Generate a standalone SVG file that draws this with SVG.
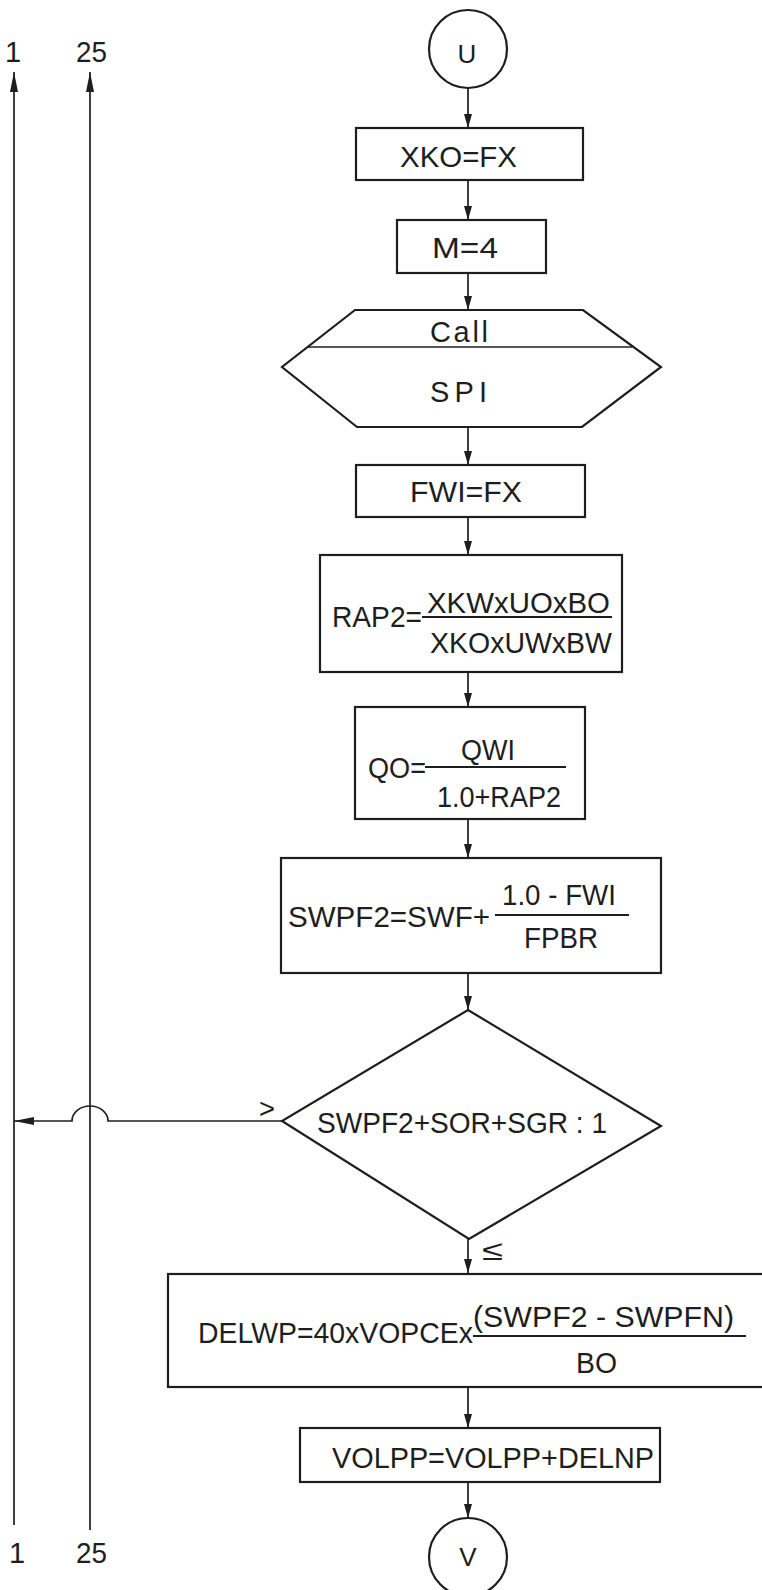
<svg xmlns="http://www.w3.org/2000/svg" width="762" height="1590" viewBox="0 0 762 1590">
<style>
.bx{fill:none;stroke:#1e1e1e;stroke-width:2.2}
.ln{fill:none;stroke:#1e1e1e;stroke-width:1.7}
.fr{stroke:#1e1e1e;stroke-width:2.2}
text{font-family:"Liberation Sans",Arial,sans-serif;font-size:29px;fill:#1e1e1e}
.m{text-anchor:middle}
.sm{font-size:28px}
</style>
<defs>
<marker id="ah" viewBox="0 0 14 8" refX="14" refY="4" markerWidth="14" markerHeight="8" orient="auto" markerUnits="userSpaceOnUse"><path d="M0,0 L14,4 L0,8 z" fill="#1e1e1e"/></marker>
<marker id="ahL" viewBox="0 0 20 8" refX="20" refY="4" markerWidth="20" markerHeight="8" orient="auto" markerUnits="userSpaceOnUse"><path d="M0,0 L20,4 L0,8 z" fill="#1e1e1e"/></marker>
</defs>
<rect width="762" height="1590" fill="#fff"/>

<g id="connectors">
<path class="ln" d="M14,1525 V72" marker-end="url(#ahL)"/>
<path class="ln" d="M90,1530 V72" marker-end="url(#ahL)"/>
<path class="ln" d="M468,88 V128" marker-end="url(#ah)"/>
<path class="ln" d="M468,180 V220" marker-end="url(#ah)"/>
<path class="ln" d="M468,273 V310" marker-end="url(#ah)"/>
<path class="ln" d="M468,427 V465" marker-end="url(#ah)"/>
<path class="ln" d="M468,517 V555" marker-end="url(#ah)"/>
<path class="ln" d="M468,672 V707" marker-end="url(#ah)"/>
<path class="ln" d="M468,819 V858" marker-end="url(#ah)"/>
<path class="ln" d="M468,973 V1010" marker-end="url(#ah)"/>
<path class="ln" d="M468,1238 V1273" marker-end="url(#ah)"/>
<path class="ln" d="M468,1387 V1428" marker-end="url(#ah)"/>
<path class="ln" d="M468,1482 V1518" marker-end="url(#ah)"/>
<path class="ln" d="M282,1121 H108 A18,15 0 0 0 72,1121 H14" stroke-width="2.4" marker-end="url(#ahL)"/>
<text x="259" y="1118" class="sm" textLength="16" lengthAdjust="spacingAndGlyphs">&gt;</text>
<text x="482" y="1260" class="sm" textLength="21" lengthAdjust="spacingAndGlyphs">≤</text>
</g>

<g id="labels-left">
<text x="13" y="62" class="m">1</text>
<text x="76" y="62" textLength="31" lengthAdjust="spacingAndGlyphs">25</text>
<text x="17" y="1563" class="m">1</text>
<text x="76" y="1563" textLength="31" lengthAdjust="spacingAndGlyphs">25</text>
</g>

<g id="U">
<circle class="bx" cx="468" cy="49" r="39"/>
<text x="467" y="63" class="m" style="font-size:26px">U</text>
</g>

<g id="XKO">
<rect class="bx" x="356" y="128" width="227" height="52"/>
<text x="400" y="167" textLength="117" lengthAdjust="spacingAndGlyphs">XKO=FX</text>
</g>

<g id="M4">
<rect class="bx" x="397" y="220" width="149" height="53"/>
<text x="432" y="258" textLength="66" lengthAdjust="spacingAndGlyphs">M=4</text>
</g>

<g id="CallSPI">
<polygon class="bx" points="355,310 583,310 661,367 582,427 357,427 282,367"/>
<line class="ln" x1="308" y1="347" x2="632" y2="347" stroke-width="2.2"/>
<text x="430" y="342" textLength="58">Call</text>
<text x="430" y="402" textLength="57">SPI</text>
</g>

<g id="FWI">
<rect class="bx" x="356" y="465" width="229" height="52"/>
<text x="410" y="502" textLength="112" lengthAdjust="spacingAndGlyphs">FWI=FX</text>
</g>

<g id="RAP2">
<rect class="bx" x="320" y="555" width="302" height="117"/>
<text x="332" y="627" textLength="90" lengthAdjust="spacingAndGlyphs">RAP2=</text>
<text x="427" y="613" textLength="183" lengthAdjust="spacingAndGlyphs">XKWxUOxBO</text>
<line class="fr" x1="422" y1="617" x2="612" y2="617"/>
<text x="430" y="653" textLength="182" lengthAdjust="spacingAndGlyphs">XKOxUWxBW</text>
</g>

<g id="QO">
<rect class="bx" x="355" y="707" width="230" height="112"/>
<text x="368" y="778" textLength="58" lengthAdjust="spacingAndGlyphs">QO=</text>
<text x="461" y="760" textLength="54" lengthAdjust="spacingAndGlyphs">QWI</text>
<line class="fr" x1="425" y1="767" x2="566" y2="767"/>
<text x="437" y="807" textLength="124" lengthAdjust="spacingAndGlyphs">1.0+RAP2</text>
</g>

<g id="SWPF2">
<rect class="bx" x="281" y="858" width="380" height="115"/>
<text x="288" y="927" textLength="202" lengthAdjust="spacingAndGlyphs">SWPF2=SWF+</text>
<text x="502" y="905" textLength="114" lengthAdjust="spacingAndGlyphs">1.0 - FWI</text>
<line class="fr" x1="495" y1="915" x2="629" y2="915"/>
<text x="524" y="948" textLength="74" lengthAdjust="spacingAndGlyphs">FPBR</text>
</g>

<g id="decision">
<polygon class="bx" points="468,1010 661,1126 469,1239 282,1121"/>
<text x="317" y="1133" textLength="290" lengthAdjust="spacingAndGlyphs">SWPF2+SOR+SGR : 1</text>
</g>

<g id="DELWP">
<rect class="bx" x="168" y="1274" width="602" height="113"/>
<text x="198" y="1343" textLength="275" lengthAdjust="spacingAndGlyphs">DELWP=40xVOPCEx</text>
<text x="473" y="1327" textLength="261" lengthAdjust="spacingAndGlyphs">(SWPF2 - SWPFN)</text>
<line class="fr" x1="473" y1="1336" x2="746" y2="1336"/>
<text x="576" y="1373" textLength="41" lengthAdjust="spacingAndGlyphs">BO</text>
</g>

<g id="VOLPP">
<rect class="bx" x="300" y="1428" width="360" height="54"/>
<text x="332" y="1468" textLength="322" lengthAdjust="spacingAndGlyphs">VOLPP=VOLPP+DELNP</text>
</g>

<g id="V">
<circle class="bx" cx="468" cy="1557" r="39"/>
<text x="468" y="1566" class="m" style="font-size:26px">V</text>
</g>
</svg>
